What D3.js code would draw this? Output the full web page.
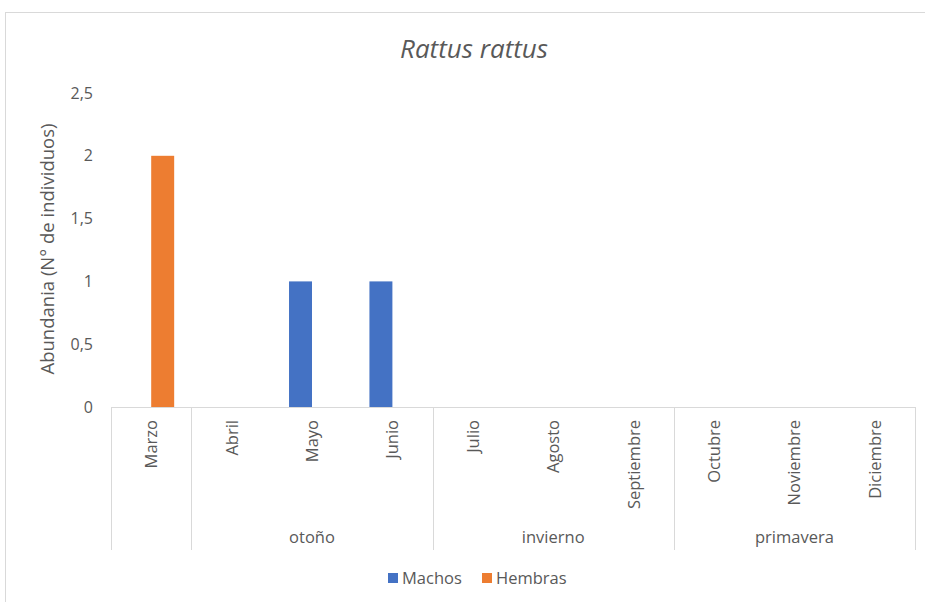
<!DOCTYPE html>
<html>
<head>
<meta charset="utf-8">
<script src="https://cdn.jsdelivr.net/npm/d3@7"></script>
<style>
  body { margin: 0; background: #fff; }
  text { font-family: "Open Sans", "Liberation Sans", Arial, sans-serif; fill: #595959; }
</style>
</head>
<body>
<div id="chart"></div>
<script>
// data
const months = ["Marzo", "Abril", "Mayo", "Junio", "Julio", "Agosto", "Septiembre", "Octubre", "Noviembre", "Diciembre"];
const seasons = [
  { name: "", from: 0, to: 1 },
  { name: "otoño", from: 1, to: 4 },
  { name: "invierno", from: 4, to: 7 },
  { name: "primavera", from: 7, to: 10 }
];
const seriesNames = ["Machos", "Hembras"];
const machos = [0, 0, 1, 1, 0, 0, 0, 0, 0, 0];
const hembras = [2, 0, 0, 0, 0, 0, 0, 0, 0, 0];
const yTicks = [0, 0.5, 1, 1.5, 2, 2.5];
const colors = ["#4472C4", "#ED7D31"];

const W = 925, H = 602;
const plotL = 111, plotR = 915, plotT = 93, plotB = 407;
const fontFam = '"Open Sans", "Liberation Sans", Arial, sans-serif';

const svg = d3.select("#chart").append("svg")
  .attr("width", W).attr("height", H);

// outer frame
svg.append("rect")
  .attr("x", 5.5).attr("y", 12.5)
  .attr("width", 940).attr("height", 620)
  .attr("fill", "none").attr("stroke", "#d9d9d9");

// title
svg.append("text")
  .attr("x", 474).attr("y", 58)
  .attr("text-anchor", "middle")
  .style("font-size", "26px").style("font-style", "italic")
  .text("Rattus rattus");

// scales
const x = d3.scaleBand().domain(months).range([plotL, plotR]);
const xs = d3.scaleBand().domain(seriesNames)
  .range([0, x.bandwidth()]).paddingOuter(0.75).paddingInner(0);
const y = d3.scaleLinear().domain([0, 2.5]).range([plotB, plotT]);

const fmt = v => String(v).replace(".", ",");

// y axis labels
const yAxis = svg.append("g")
  .attr("transform", `translate(${plotL - 18},0)`)
  .call(d3.axisLeft(y).tickValues(yTicks).tickFormat(fmt).tickSize(0).tickPadding(0));
yAxis.select(".domain").remove();
yAxis.selectAll("text").style("font-size", "16px").style("fill", "#595959")
  .style("font-family", fontFam);

// y axis title
svg.append("text")
  .attr("transform", `translate(54,${(plotT + plotB) / 2 - 1}) rotate(-90)`)
  .attr("text-anchor", "middle")
  .style("font-size", "18.5px")
  .text("Abundania (N° de individuos)");

// bars
const rows = months.map((m, i) => ({ month: m, values: [machos[i], hembras[i]] }));
const groups = svg.append("g").selectAll("g")
  .data(rows).join("g")
  .attr("transform", d => `translate(${x(d.month)},0)`);
groups.selectAll("rect")
  .data(d => d.values.map((v, k) => ({ key: seriesNames[k], v, k })))
  .join("rect")
  .attr("x", d => xs(d.key))
  .attr("width", xs.bandwidth())
  .attr("y", d => y(d.v))
  .attr("height", d => y(0) - y(d.v))
  .attr("fill", d => colors[d.k]);

// x axis line
svg.append("line")
  .attr("x1", plotL).attr("x2", plotR)
  .attr("y1", plotB + 0.5).attr("y2", plotB + 0.5)
  .attr("stroke", "#d9d9d9");

// group separators
const sepBottom = 550;
const seps = [0, ...seasons.map(s => s.to)];
svg.append("g").selectAll("line")
  .data(seps).join("line")
  .attr("x1", i => Math.round(plotL + i * x.step()) + 0.5)
  .attr("x2", i => Math.round(plotL + i * x.step()) + 0.5)
  .attr("y1", plotB).attr("y2", sepBottom)
  .attr("stroke", "#d9d9d9");

// month labels
svg.append("g").selectAll("text")
  .data(months).join("text")
  .attr("transform", d => `translate(${x(d) + x.bandwidth() / 2 + 6},420) rotate(-90)`)
  .attr("text-anchor", "end")
  .style("font-size", "16.5px")
  .text(d => d);

// season labels
svg.append("g").selectAll("text")
  .data(seasons.filter(s => s.name)).join("text")
  .attr("x", s => plotL + (s.from + s.to) / 2 * x.step())
  .attr("y", 543)
  .attr("text-anchor", "middle")
  .style("font-size", "16.5px")
  .text(s => s.name);

// legend
const legend = svg.append("g").attr("transform", "translate(388,578)");
const items = [{ name: seriesNames[0], c: colors[0], dx: 0 }, { name: seriesNames[1], c: colors[1], dx: 94 }];
const li = legend.selectAll("g").data(items).join("g")
  .attr("transform", d => `translate(${d.dx},0)`);
li.append("rect").attr("x", 0).attr("y", -5).attr("width", 10).attr("height", 10)
  .attr("fill", d => d.c);
li.append("text").attr("x", 14).attr("y", 6)
  .style("font-size", "16.5px").text(d => d.name);
</script>
</body>
</html>
